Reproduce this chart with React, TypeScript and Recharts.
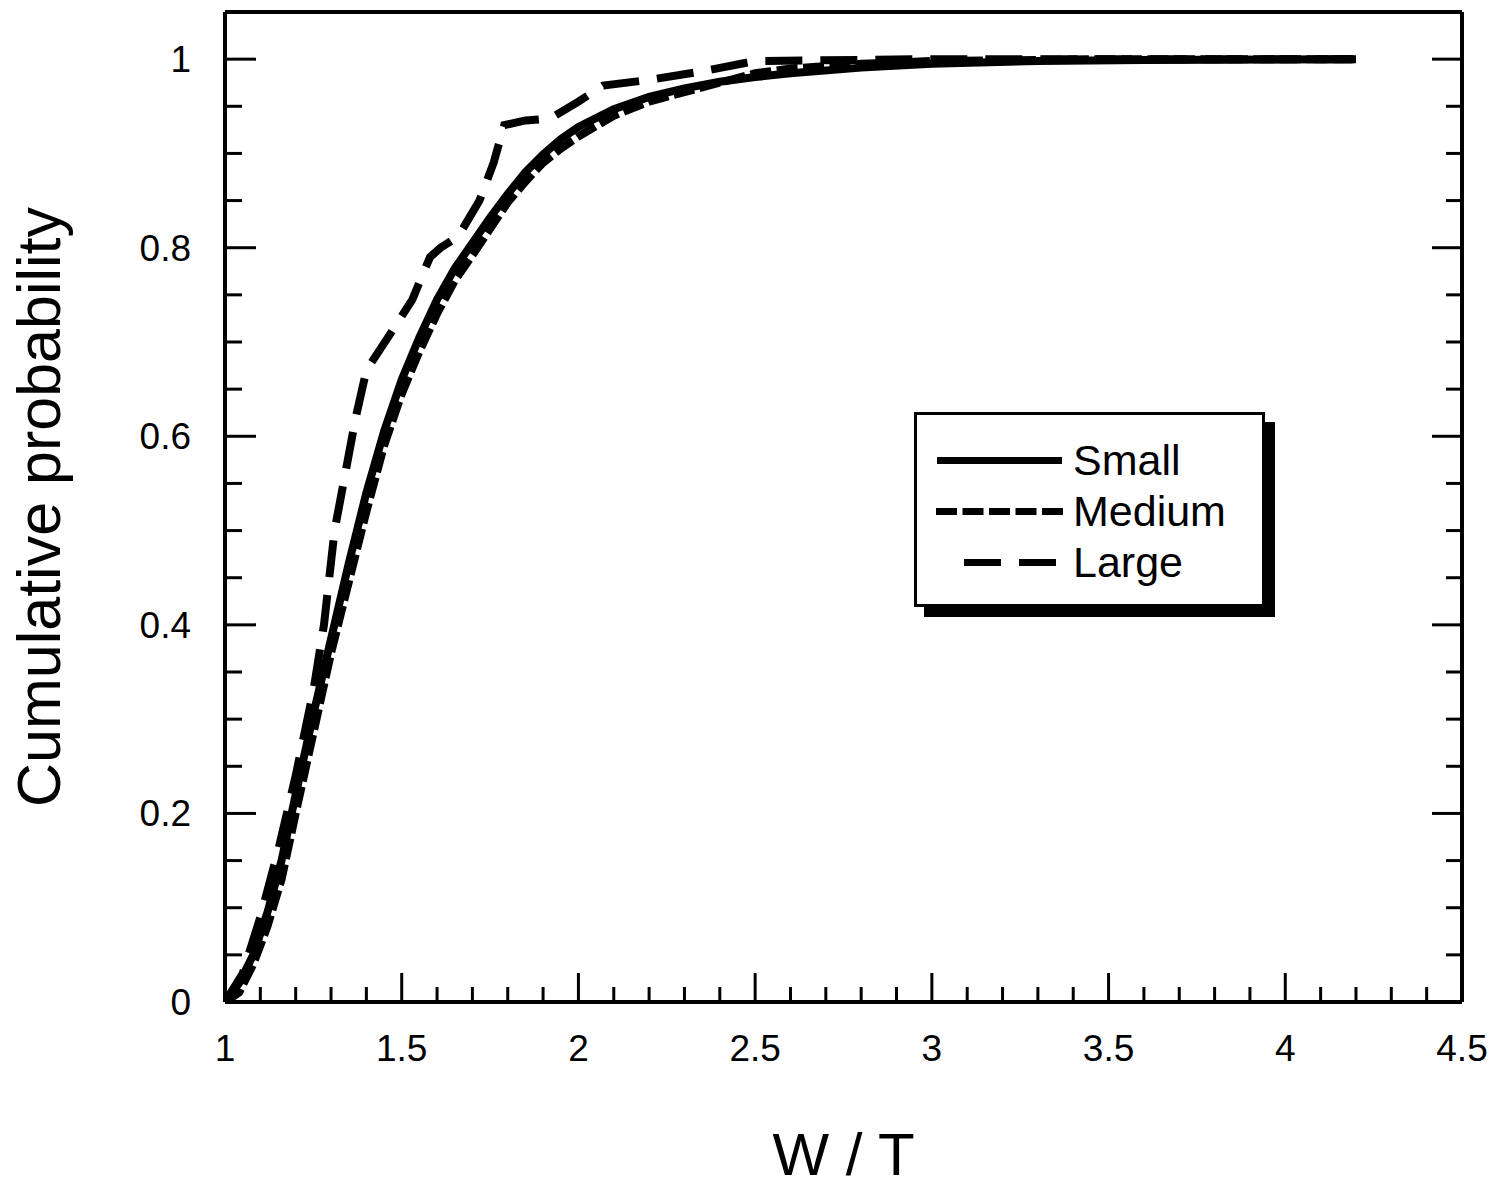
import { LineChart, Line, XAxis, YAxis, Legend, Label } from "recharts";

const FONT = '"Liberation Sans", Arial, Helvetica, sans-serif';

// W/T 값 (x) 과 누적확률 (y) - 그림에서 읽은 값
const smallX = [1.0, 1.04, 1.08, 1.12, 1.16, 1.2, 1.25, 1.3, 1.35, 1.4, 1.45, 1.5, 1.55, 1.6, 1.65, 1.7, 1.75, 1.8, 1.85, 1.9, 1.95, 2.0, 2.1, 2.2, 2.3, 2.4, 2.5, 2.6, 2.8, 3.0, 3.3, 3.6, 4.2];
const smallY = [0, 0.02, 0.05, 0.095, 0.15, 0.22, 0.305, 0.385, 0.465, 0.54, 0.605, 0.66, 0.705, 0.745, 0.778, 0.805, 0.832, 0.857, 0.88, 0.899, 0.915, 0.928, 0.947, 0.96, 0.969, 0.976, 0.981, 0.985, 0.991, 0.995, 0.998, 0.999, 1.0];

const mediumX = [1.0, 1.04, 1.08, 1.12, 1.16, 1.2, 1.25, 1.3, 1.35, 1.4, 1.45, 1.5, 1.55, 1.6, 1.65, 1.7, 1.75, 1.8, 1.85, 1.9, 1.95, 2.0, 2.1, 2.2, 2.3, 2.4, 2.5, 2.6, 2.8, 3.0, 3.5, 4.2];
const mediumY = [0, 0.01, 0.04, 0.08, 0.13, 0.2, 0.285, 0.37, 0.445, 0.52, 0.59, 0.645, 0.69, 0.73, 0.765, 0.792, 0.82, 0.848, 0.87, 0.89, 0.905, 0.918, 0.94, 0.955, 0.965, 0.975, 0.985, 0.99, 0.995, 0.998, 1.0, 1.0];

const largeX = [1.0, 1.05, 1.1, 1.15, 1.2, 1.25, 1.28, 1.31, 1.34, 1.37, 1.4, 1.47, 1.53, 1.58, 1.61, 1.66, 1.72, 1.76, 1.79, 1.85, 1.92, 2.0, 2.07, 2.2, 2.35, 2.5, 3.0, 4.2];
const largeY = [0, 0.03, 0.09, 0.16, 0.24, 0.33, 0.4, 0.5, 0.56, 0.62, 0.67, 0.71, 0.745, 0.79, 0.8, 0.812, 0.85, 0.89, 0.93, 0.935, 0.937, 0.955, 0.972, 0.978, 0.987, 0.998, 1.0, 1.0];

// 범례 순서
const seriesNames = ["Small", "Medium", "Large"];

// 눈금: 주눈금(라벨) / 보조눈금
const xMajorTicks = [1, 1.5, 2, 2.5, 3, 3.5, 4, 4.5];
const yMajorTicks = [0, 0.2, 0.4, 0.6, 0.8, 1];
const xAllTicks = Array.from({ length: 36 }, (_, i) => Number((1 + i * 0.1).toFixed(1)));
const yAllTicks = Array.from({ length: 21 }, (_, i) => Number((i * 0.05).toFixed(2)));

const zip = (xs: number[], ys: number[]) => xs.map((x, i) => ({ x, y: ys[i] }));
const smallData = zip(smallX, smallY);
const mediumData = zip(mediumX, mediumY);
const largeData = zip(largeX, largeY);

// 선 스타일 + 범례 샘플 선 위치
const SERIES_STYLE: Record<string, { dash?: string; x1: number; x2: number }> = {
  Small: { x1: 20, x2: 145 },
  Medium: { dash: "21 5.5", x1: 19, x2: 146 },
  Large: { dash: "37 18", x1: 47, x2: 139 },
};

const LINE_W = 8;
const MAJOR_LEN = 29;
const MINOR_LEN = 15;
const TICK_W = 3;

const isMajorX = (v: number) => xMajorTicks.some((t) => Math.abs(t - v) < 1e-6);
const isMajorY = (v: number) => yMajorTicks.some((t) => Math.abs(t - v) < 1e-6);

// 아래쪽 눈금: 안쪽으로 향하는 선 + 라벨
const BottomTick = ({ x, y, payload }: any) => {
  const major = isMajorX(payload.value);
  return (
    <g>
      <line x1={x} x2={x} y1={y} y2={y - (major ? MAJOR_LEN : MINOR_LEN)} stroke="#000" strokeWidth={TICK_W} />
      {major && (
        <text x={x} y={y + 59} textAnchor="middle" fontSize={37} fontFamily={FONT} fill="#000">
          {String(payload.value)}
        </text>
      )}
    </g>
  );
};

const TopTick = ({ x, y, payload }: any) => {
  const major = isMajorX(payload.value);
  return <line x1={x} x2={x} y1={y} y2={y + (major ? MAJOR_LEN : MINOR_LEN)} stroke="#000" strokeWidth={TICK_W} />;
};

const LeftTick = ({ x, y, payload }: any) => {
  const major = isMajorY(payload.value);
  return (
    <g>
      <line x1={x} x2={x + (major ? 31 : 17)} y1={y} y2={y} stroke="#000" strokeWidth={TICK_W} />
      {major && (
        <text x={x - 34} y={y + 13} textAnchor="end" fontSize={37} fontFamily={FONT} fill="#000">
          {String(payload.value)}
        </text>
      )}
    </g>
  );
};

const RightTick = ({ x, y, payload }: any) => {
  const major = isMajorY(payload.value);
  return <line x1={x} x2={x - (major ? 30 : 16)} y1={y} y2={y} stroke="#000" strokeWidth={TICK_W} />;
};

// 범례: 그림자 있는 박스
const renderLegend = (props: any) => {
  const payload = [...(props.payload || [])].sort(
    (a: any, b: any) => seriesNames.indexOf(a.value) - seriesNames.indexOf(b.value)
  );
  return (
    <div
      style={{
        boxSizing: "border-box",
        width: 351,
        height: 195,
        border: "3px solid #000",
        background: "#fff",
        boxShadow: "10px 10px 0 #000",
        paddingTop: 20,
        fontFamily: FONT,
      }}
    >
      {payload.map((entry: any) => {
        const st = SERIES_STYLE[entry.value] || { x1: 20, x2: 145 };
        return (
          <div key={entry.value} style={{ position: "relative", height: 51 }}>
            <svg width={150} height={51} style={{ position: "absolute", left: 0, top: 0 }}>
              <line x1={st.x1} x2={st.x2} y1={25.5} y2={25.5} stroke="#000" strokeWidth={7} strokeDasharray={st.dash} />
            </svg>
            <span
              style={{
                position: "absolute",
                left: 156,
                top: 0,
                lineHeight: "51px",
                fontSize: 43,
                color: "#000",
              }}
            >
              {entry.value}
            </span>
          </div>
        );
      })}
    </div>
  );
};

export default function App() {
  return (
    <div style={{ position: "absolute", left: 0, top: 0, width: 1493, height: 1189, background: "#fff" }}>
      <LineChart width={1493} height={1189} margin={{ top: 11, right: 30, bottom: 186, left: 224 }}>
        <XAxis
          xAxisId="bottom"
          type="number"
          dataKey="x"
          domain={[1, 4.5]}
          allowDataOverflow
          ticks={xAllTicks}
          interval={0}
          height={1}
          tickSize={0}
          tickMargin={0}
          tickLine={false}
          tick={<BottomTick />}
          axisLine={{ stroke: "#000", strokeWidth: 4 }}
        >
          <Label value="W / T" position="bottom" offset={129} fontSize={60} fontFamily={FONT} fill="#000" />
        </XAxis>
        <XAxis
          xAxisId="top"
          orientation="top"
          type="number"
          domain={[1, 4.5]}
          allowDataOverflow
          ticks={xAllTicks}
          interval={0}
          height={1}
          tickSize={0}
          tickMargin={0}
          tickLine={false}
          tick={<TopTick />}
          axisLine={{ stroke: "#000", strokeWidth: 4 }}
        />
        <YAxis
          yAxisId="left"
          type="number"
          domain={[0, 1.05]}
          allowDataOverflow
          ticks={yAllTicks}
          interval={0}
          width={1}
          tickSize={0}
          tickMargin={0}
          tickLine={false}
          tick={<LeftTick />}
          axisLine={{ stroke: "#000", strokeWidth: 4 }}
        >
          <Label
            value="Cumulative probability"
            content={(p: any) => {
              const vb = p.viewBox || { y: 12, height: 990 };
              const cy = vb.y + vb.height / 2;
              const tx = 60;
              return (
                <text
                  x={tx}
                  y={cy}
                  transform={`rotate(-90 ${tx} ${cy})`}
                  textAnchor="middle"
                  fontSize={61}
                  fontFamily={FONT}
                  fill="#000"
                >
                  {p.value}
                </text>
              );
            }}
          />
        </YAxis>
        <YAxis
          yAxisId="right"
          orientation="right"
          type="number"
          domain={[0, 1.05]}
          allowDataOverflow
          ticks={yAllTicks}
          interval={0}
          width={1}
          tickSize={0}
          tickMargin={0}
          tickLine={false}
          tick={<RightTick />}
          axisLine={{ stroke: "#000", strokeWidth: 4 }}
        />

        <Line
          xAxisId="bottom"
          yAxisId="left"
          data={smallData}
          dataKey="y"
          name={seriesNames[0]}
          type="linear"
          stroke="#000"
          strokeWidth={LINE_W}
          dot={false}
          isAnimationActive={false}
        />
        <Line
          xAxisId="bottom"
          yAxisId="left"
          data={mediumData}
          dataKey="y"
          name={seriesNames[1]}
          type="linear"
          stroke="#000"
          strokeWidth={LINE_W}
          strokeDasharray={SERIES_STYLE.Medium.dash}
          dot={false}
          isAnimationActive={false}
        />
        <Line
          xAxisId="bottom"
          yAxisId="left"
          data={largeData}
          dataKey="y"
          name={seriesNames[2]}
          type="linear"
          stroke="#000"
          strokeWidth={LINE_W}
          strokeDasharray={SERIES_STYLE.Large.dash}
          dot={false}
          isAnimationActive={false}
        />

        <Legend
          layout="vertical"
          align="center"
          verticalAlign="middle"
          content={renderLegend}
          wrapperStyle={{ left: 914, top: 412, width: "auto", height: "auto" }}
        />
      </LineChart>
    </div>
  );
}
